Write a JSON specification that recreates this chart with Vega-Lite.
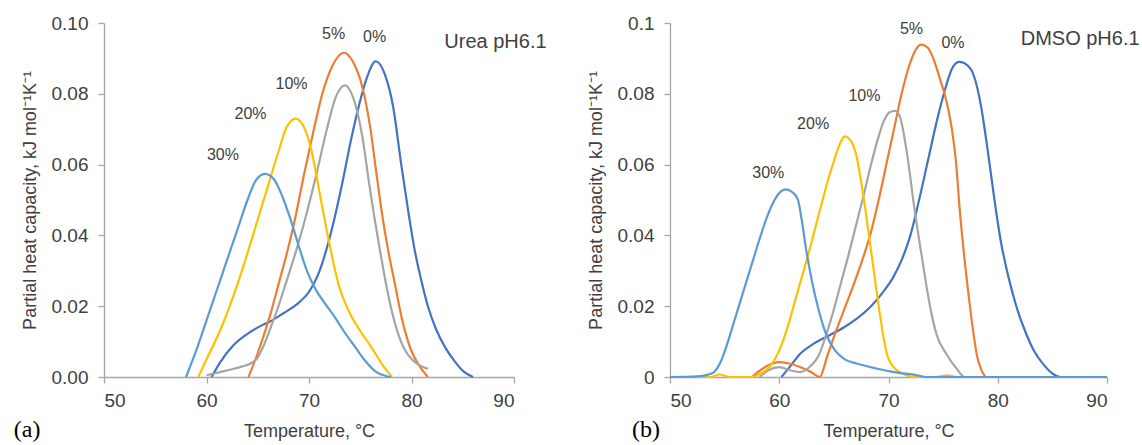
{
"$schema": "https://vega.github.io/schema/vega-lite/v6.json",
"background": "white",
"padding": {"left": 13, "top": 14, "right": 0, "bottom": 0},
"spacing": 40,
"config": {
  "view": {"stroke": null},
  "font": "Liberation Sans",
  "axis": {"domainColor": "#A6A6A6", "tickColor": "#A6A6A6", "labelColor": "#404040", "titleColor": "#404040", "labelFont": "Liberation Sans", "titleFont": "Liberation Sans", "labelFontSize": 19, "titleFontSize": 18, "titleFontWeight": "normal", "grid": false, "tickSize": 6, "domainWidth": 1.3, "tickWidth": 1.3},
  "axisX": {"labelPadding": 8, "titlePadding": 12},
  "axisY": {"labelPadding": 10, "titlePadding": 12}
},
"datasets": {
"curves": [
{"p":"a","c":"0%","t":60.5,"v":0},{"p":"a","c":"0%","t":61.3,"v":0.004},{"p":"a","c":"0%","t":62.6,"v":0.0089},{"p":"a","c":"0%","t":63.9,"v":0.012},{"p":"a","c":"0%","t":65.2,"v":0.0143},{"p":"a","c":"0%","t":66.4,"v":0.016},{"p":"a","c":"0%","t":67.5,"v":0.018},{"p":"a","c":"0%","t":68.8,"v":0.0205},{"p":"a","c":"0%","t":70.1,"v":0.0245},{"p":"a","c":"0%","t":70.9,"v":0.029},{"p":"a","c":"0%","t":71.7,"v":0.036},{"p":"a","c":"0%","t":72.5,"v":0.045},{"p":"a","c":"0%","t":73.3,"v":0.0555},{"p":"a","c":"0%","t":74.1,"v":0.067},{"p":"a","c":"0%","t":74.9,"v":0.077},{"p":"a","c":"0%","t":75.7,"v":0.085},{"p":"a","c":"0%","t":76.5,"v":0.0892},{"p":"a","c":"0%","t":77.4,"v":0.0855},{"p":"a","c":"0%","t":78.2,"v":0.0765},{"p":"a","c":"0%","t":79.0,"v":0.060},{"p":"a","c":"0%","t":79.7,"v":0.0465},{"p":"a","c":"0%","t":80.3,"v":0.036},{"p":"a","c":"0%","t":80.9,"v":0.028},{"p":"a","c":"0%","t":81.6,"v":0.020},{"p":"a","c":"0%","t":82.4,"v":0.0135},{"p":"a","c":"0%","t":83.3,"v":0.0083},{"p":"a","c":"0%","t":84.2,"v":0.0045},{"p":"a","c":"0%","t":85.1,"v":0.0015},{"p":"a","c":"0%","t":86.0,"v":0},
{"p":"a","c":"5%","t":64.1,"v":0},{"p":"a","c":"5%","t":64.9,"v":0.006},{"p":"a","c":"5%","t":65.5,"v":0.011},{"p":"a","c":"5%","t":66.2,"v":0.0174},{"p":"a","c":"5%","t":67.1,"v":0.027},{"p":"a","c":"5%","t":67.95,"v":0.0362},{"p":"a","c":"5%","t":68.7,"v":0.0455},{"p":"a","c":"5%","t":69.5,"v":0.057},{"p":"a","c":"5%","t":70.4,"v":0.069},{"p":"a","c":"5%","t":71.3,"v":0.080},{"p":"a","c":"5%","t":72.3,"v":0.088},{"p":"a","c":"5%","t":73.4,"v":0.0916},{"p":"a","c":"5%","t":74.3,"v":0.089},{"p":"a","c":"5%","t":75.2,"v":0.082},{"p":"a","c":"5%","t":76.0,"v":0.070},{"p":"a","c":"5%","t":76.6,"v":0.057},{"p":"a","c":"5%","t":77.2,"v":0.0447},{"p":"a","c":"5%","t":77.7,"v":0.0362},{"p":"a","c":"5%","t":78.4,"v":0.026},{"p":"a","c":"5%","t":79.1,"v":0.016},{"p":"a","c":"5%","t":79.9,"v":0.008},{"p":"a","c":"5%","t":80.8,"v":0.003},{"p":"a","c":"5%","t":81.6,"v":0},
{"p":"a","c":"10%","t":60.0,"v":0.0005},{"p":"a","c":"10%","t":61.5,"v":0.0015},{"p":"a","c":"10%","t":62.5,"v":0.0022},{"p":"a","c":"10%","t":63.5,"v":0.003},{"p":"a","c":"10%","t":64.3,"v":0.0038},{"p":"a","c":"10%","t":65.0,"v":0.0055},{"p":"a","c":"10%","t":65.6,"v":0.009},{"p":"a","c":"10%","t":66.2,"v":0.0135},{"p":"a","c":"10%","t":66.9,"v":0.019},{"p":"a","c":"10%","t":67.8,"v":0.027},{"p":"a","c":"10%","t":68.8,"v":0.0362},{"p":"a","c":"10%","t":69.7,"v":0.0455},{"p":"a","c":"10%","t":70.7,"v":0.057},{"p":"a","c":"10%","t":71.7,"v":0.0695},{"p":"a","c":"10%","t":72.6,"v":0.079},{"p":"a","c":"10%","t":73.5,"v":0.0824},{"p":"a","c":"10%","t":74.3,"v":0.079},{"p":"a","c":"10%","t":75.2,"v":0.068},{"p":"a","c":"10%","t":75.9,"v":0.054},{"p":"a","c":"10%","t":76.4,"v":0.0447},{"p":"a","c":"10%","t":76.9,"v":0.0362},{"p":"a","c":"10%","t":77.6,"v":0.025},{"p":"a","c":"10%","t":78.4,"v":0.015},{"p":"a","c":"10%","t":79.2,"v":0.0085},{"p":"a","c":"10%","t":80.2,"v":0.0045},{"p":"a","c":"10%","t":81.0,"v":0.003},{"p":"a","c":"10%","t":81.6,"v":0.0023},
{"p":"a","c":"20%","t":59.2,"v":0},{"p":"a","c":"20%","t":60.0,"v":0.005},{"p":"a","c":"20%","t":61.0,"v":0.011},{"p":"a","c":"20%","t":62.0,"v":0.018},{"p":"a","c":"20%","t":63.0,"v":0.026},{"p":"a","c":"20%","t":64.0,"v":0.035},{"p":"a","c":"20%","t":65.0,"v":0.0445},{"p":"a","c":"20%","t":66.0,"v":0.054},{"p":"a","c":"20%","t":67.0,"v":0.0635},{"p":"a","c":"20%","t":67.8,"v":0.0705},{"p":"a","c":"20%","t":68.7,"v":0.073},{"p":"a","c":"20%","t":69.4,"v":0.0712},{"p":"a","c":"20%","t":70.2,"v":0.0645},{"p":"a","c":"20%","t":71.1,"v":0.051},{"p":"a","c":"20%","t":72.0,"v":0.0375},{"p":"a","c":"20%","t":72.9,"v":0.026},{"p":"a","c":"20%","t":73.9,"v":0.0185},{"p":"a","c":"20%","t":75.0,"v":0.013},{"p":"a","c":"20%","t":76.0,"v":0.0088},{"p":"a","c":"20%","t":77.2,"v":0.0033},{"p":"a","c":"20%","t":78.1,"v":0},
{"p":"a","c":"30%","t":58.0,"v":0},{"p":"a","c":"30%","t":59.0,"v":0.0075},{"p":"a","c":"30%","t":60.0,"v":0.016},{"p":"a","c":"30%","t":61.0,"v":0.0245},{"p":"a","c":"30%","t":62.0,"v":0.033},{"p":"a","c":"30%","t":63.0,"v":0.0415},{"p":"a","c":"30%","t":64.0,"v":0.050},{"p":"a","c":"30%","t":64.8,"v":0.0555},{"p":"a","c":"30%","t":65.7,"v":0.0574},{"p":"a","c":"30%","t":66.6,"v":0.0558},{"p":"a","c":"30%","t":67.4,"v":0.051},{"p":"a","c":"30%","t":68.2,"v":0.0445},{"p":"a","c":"30%","t":69.0,"v":0.037},{"p":"a","c":"30%","t":69.8,"v":0.030},{"p":"a","c":"30%","t":70.6,"v":0.025},{"p":"a","c":"30%","t":71.5,"v":0.021},{"p":"a","c":"30%","t":72.5,"v":0.017},{"p":"a","c":"30%","t":73.5,"v":0.0125},{"p":"a","c":"30%","t":74.5,"v":0.0085},{"p":"a","c":"30%","t":75.5,"v":0.0045},{"p":"a","c":"30%","t":76.5,"v":0.0015},{"p":"a","c":"30%","t":77.5,"v":0.0003},{"p":"a","c":"30%","t":78.0,"v":0},
{"p":"b","c":"0%","t":60.2,"v":0},{"p":"b","c":"0%","t":61.0,"v":0.003},{"p":"b","c":"0%","t":61.9,"v":0.0065},{"p":"b","c":"0%","t":63.2,"v":0.0095},{"p":"b","c":"0%","t":64.6,"v":0.0118},{"p":"b","c":"0%","t":65.9,"v":0.014},{"p":"b","c":"0%","t":67.1,"v":0.0165},{"p":"b","c":"0%","t":68.4,"v":0.020},{"p":"b","c":"0%","t":69.5,"v":0.024},{"p":"b","c":"0%","t":70.4,"v":0.028},{"p":"b","c":"0%","t":71.2,"v":0.033},{"p":"b","c":"0%","t":72.0,"v":0.040},{"p":"b","c":"0%","t":72.8,"v":0.050},{"p":"b","c":"0%","t":73.6,"v":0.061},{"p":"b","c":"0%","t":74.4,"v":0.072},{"p":"b","c":"0%","t":75.2,"v":0.0815},{"p":"b","c":"0%","t":75.9,"v":0.0876},{"p":"b","c":"0%","t":76.5,"v":0.089},{"p":"b","c":"0%","t":77.5,"v":0.0871},{"p":"b","c":"0%","t":78.4,"v":0.0777},{"p":"b","c":"0%","t":79.1,"v":0.0636},{"p":"b","c":"0%","t":79.7,"v":0.050},{"p":"b","c":"0%","t":80.3,"v":0.038},{"p":"b","c":"0%","t":81.0,"v":0.028},{"p":"b","c":"0%","t":81.7,"v":0.020},{"p":"b","c":"0%","t":82.5,"v":0.013},{"p":"b","c":"0%","t":83.3,"v":0.0075},{"p":"b","c":"0%","t":84.2,"v":0.0035},{"p":"b","c":"0%","t":85.0,"v":0.001},{"p":"b","c":"0%","t":85.7,"v":0},{"p":"b","c":"0%","t":90,"v":0},
{"p":"b","c":"5%","t":57.5,"v":0},{"p":"b","c":"5%","t":58.5,"v":0.0024},{"p":"b","c":"5%","t":59.9,"v":0.0042},{"p":"b","c":"5%","t":60.9,"v":0.0038},{"p":"b","c":"5%","t":61.9,"v":0.0028},{"p":"b","c":"5%","t":62.9,"v":0.0014},{"p":"b","c":"5%","t":63.7,"v":0},{"p":"b","c":"5%","t":64.4,"v":0.006},{"p":"b","c":"5%","t":65.2,"v":0.013},{"p":"b","c":"5%","t":66.0,"v":0.0195},{"p":"b","c":"5%","t":66.8,"v":0.026},{"p":"b","c":"5%","t":67.6,"v":0.033},{"p":"b","c":"5%","t":68.4,"v":0.041},{"p":"b","c":"5%","t":69.1,"v":0.050},{"p":"b","c":"5%","t":69.8,"v":0.060},{"p":"b","c":"5%","t":70.5,"v":0.070},{"p":"b","c":"5%","t":71.2,"v":0.080},{"p":"b","c":"5%","t":71.9,"v":0.088},{"p":"b","c":"5%","t":72.5,"v":0.0925},{"p":"b","c":"5%","t":73.0,"v":0.0939},{"p":"b","c":"5%","t":73.6,"v":0.093},{"p":"b","c":"5%","t":74.1,"v":0.090},{"p":"b","c":"5%","t":74.7,"v":0.0843},{"p":"b","c":"5%","t":75.3,"v":0.078},{"p":"b","c":"5%","t":75.8,"v":0.070},{"p":"b","c":"5%","t":76.2,"v":0.060},{"p":"b","c":"5%","t":76.5,"v":0.048},{"p":"b","c":"5%","t":76.9,"v":0.035},{"p":"b","c":"5%","t":77.3,"v":0.024},{"p":"b","c":"5%","t":77.7,"v":0.014},{"p":"b","c":"5%","t":78.1,"v":0.006},{"p":"b","c":"5%","t":78.5,"v":0.002},{"p":"b","c":"5%","t":79.0,"v":0},{"p":"b","c":"5%","t":90,"v":0},
{"p":"b","c":"10%","t":58.2,"v":0},{"p":"b","c":"10%","t":59.0,"v":0.0019},{"p":"b","c":"10%","t":60.0,"v":0.0028},{"p":"b","c":"10%","t":61.0,"v":0.0019},{"p":"b","c":"10%","t":61.9,"v":0.0014},{"p":"b","c":"10%","t":63.0,"v":0.0035},{"p":"b","c":"10%","t":63.6,"v":0.006},{"p":"b","c":"10%","t":64.2,"v":0.011},{"p":"b","c":"10%","t":64.9,"v":0.018},{"p":"b","c":"10%","t":65.6,"v":0.026},{"p":"b","c":"10%","t":66.3,"v":0.034},{"p":"b","c":"10%","t":67.0,"v":0.0425},{"p":"b","c":"10%","t":67.7,"v":0.051},{"p":"b","c":"10%","t":68.4,"v":0.060},{"p":"b","c":"10%","t":69.0,"v":0.067},{"p":"b","c":"10%","t":69.6,"v":0.0725},{"p":"b","c":"10%","t":70.1,"v":0.0748},{"p":"b","c":"10%","t":70.6,"v":0.0752},{"p":"b","c":"10%","t":71.05,"v":0.0735},{"p":"b","c":"10%","t":71.7,"v":0.063},{"p":"b","c":"10%","t":72.4,"v":0.047},{"p":"b","c":"10%","t":73.1,"v":0.033},{"p":"b","c":"10%","t":73.8,"v":0.020},{"p":"b","c":"10%","t":74.4,"v":0.012},{"p":"b","c":"10%","t":75.3,"v":0.0065},{"p":"b","c":"10%","t":76.2,"v":0.0025},{"p":"b","c":"10%","t":77.0,"v":0},{"p":"b","c":"10%","t":90,"v":0},
{"p":"b","c":"20%","t":50,"v":0},{"p":"b","c":"20%","t":53.8,"v":0},{"p":"b","c":"20%","t":54.5,"v":0.0007},{"p":"b","c":"20%","t":55.5,"v":0},{"p":"b","c":"20%","t":57.5,"v":0},{"p":"b","c":"20%","t":58.3,"v":0.001},{"p":"b","c":"20%","t":59.0,"v":0.0025},{"p":"b","c":"20%","t":59.6,"v":0.005},{"p":"b","c":"20%","t":60.2,"v":0.009},{"p":"b","c":"20%","t":60.8,"v":0.0145},{"p":"b","c":"20%","t":61.4,"v":0.021},{"p":"b","c":"20%","t":62.0,"v":0.0275},{"p":"b","c":"20%","t":62.6,"v":0.034},{"p":"b","c":"20%","t":63.2,"v":0.041},{"p":"b","c":"20%","t":63.8,"v":0.048},{"p":"b","c":"20%","t":64.4,"v":0.055},{"p":"b","c":"20%","t":65.0,"v":0.061},{"p":"b","c":"20%","t":65.5,"v":0.0655},{"p":"b","c":"20%","t":66.0,"v":0.068},{"p":"b","c":"20%","t":66.6,"v":0.0665},{"p":"b","c":"20%","t":67.1,"v":0.062},{"p":"b","c":"20%","t":67.5,"v":0.055},{"p":"b","c":"20%","t":67.9,"v":0.047},{"p":"b","c":"20%","t":68.3,"v":0.038},{"p":"b","c":"20%","t":68.7,"v":0.029},{"p":"b","c":"20%","t":69.1,"v":0.020},{"p":"b","c":"20%","t":69.5,"v":0.012},{"p":"b","c":"20%","t":69.9,"v":0.006},{"p":"b","c":"20%","t":70.4,"v":0.003},{"p":"b","c":"20%","t":71.3,"v":0.001},{"p":"b","c":"20%","t":72.3,"v":0},{"p":"b","c":"20%","t":74.3,"v":0},{"p":"b","c":"20%","t":75.3,"v":0.0005},{"p":"b","c":"20%","t":76.3,"v":0},{"p":"b","c":"20%","t":90,"v":0},
{"p":"b","c":"30%","t":50,"v":0},{"p":"b","c":"30%","t":52.5,"v":0.0002},{"p":"b","c":"30%","t":53.4,"v":0.0006},{"p":"b","c":"30%","t":54.0,"v":0.0013},{"p":"b","c":"30%","t":54.6,"v":0.004},{"p":"b","c":"30%","t":55.2,"v":0.009},{"p":"b","c":"30%","t":55.8,"v":0.015},{"p":"b","c":"30%","t":56.4,"v":0.021},{"p":"b","c":"30%","t":57.0,"v":0.027},{"p":"b","c":"30%","t":57.6,"v":0.033},{"p":"b","c":"30%","t":58.2,"v":0.039},{"p":"b","c":"30%","t":58.8,"v":0.0445},{"p":"b","c":"30%","t":59.4,"v":0.049},{"p":"b","c":"30%","t":60.0,"v":0.052},{"p":"b","c":"30%","t":60.6,"v":0.053},{"p":"b","c":"30%","t":61.2,"v":0.0522},{"p":"b","c":"30%","t":61.7,"v":0.0502},{"p":"b","c":"30%","t":62.05,"v":0.0445},{"p":"b","c":"30%","t":62.45,"v":0.0362},{"p":"b","c":"30%","t":63.0,"v":0.027},{"p":"b","c":"30%","t":63.6,"v":0.019},{"p":"b","c":"30%","t":64.3,"v":0.012},{"p":"b","c":"30%","t":65.1,"v":0.0075},{"p":"b","c":"30%","t":66.0,"v":0.005},{"p":"b","c":"30%","t":67.1,"v":0.0038},{"p":"b","c":"30%","t":68.9,"v":0.0024},{"p":"b","c":"30%","t":70.5,"v":0.0014},{"p":"b","c":"30%","t":72.6,"v":0.0005},{"p":"b","c":"30%","t":73.5,"v":0},{"p":"b","c":"30%","t":90,"v":0}
],
"labels": [
{"p":"a","k":"pct","t":72.4,"v":0.097,"s":"5%"},{"p":"a","k":"pct","t":76.4,"v":0.096,"s":"0%"},{"p":"a","k":"pct","t":68.3,"v":0.0829,"s":"10%"},{"p":"a","k":"pct","t":64.3,"v":0.0744,"s":"20%"},{"p":"a","k":"pct","t":61.6,"v":0.0626,"s":"30%"},{"p":"a","k":"name","t":83.2,"v":0.0946,"s":"Urea pH6.1"},{"p":"a","k":"tag","t":42.5,"v":-0.0151,"s":"(a)"},
{"p":"b","k":"pct","t":72.1,"v":0.0984,"s":"5%"},{"p":"b","k":"pct","t":75.9,"v":0.0944,"s":"0%"},{"p":"b","k":"pct","t":67.8,"v":0.0794,"s":"10%"},{"p":"b","k":"pct","t":63.1,"v":0.0716,"s":"20%"},{"p":"b","k":"pct","t":59.0,"v":0.0577,"s":"30%"},{"p":"b","k":"name","t":82.1,"v":0.0954,"s":"DMSO pH6.1"},{"p":"b","k":"tag","t":47.8,"v":-0.0151,"s":"(b)"}
]
},
"hconcat": [
{
  "width": 410, "height": 354,
  "layer": [
    {"data": {"name": "curves"}, "transform": [{"filter": "datum.p === 'a'"}],
     "mark": {"type": "line", "interpolate": "monotone", "strokeWidth": 2.2},
     "encoding": {
       "x": {"field": "t", "type": "quantitative", "scale": {"domain": [50, 90], "nice": false, "zero": false}, "axis": {"values": [50, 60, 70, 80, 90], "title": "Temperature, °C"}},
       "y": {"field": "v", "type": "quantitative", "scale": {"domain": [0, 0.1], "nice": false}, "axis": {"values": [0, 0.02, 0.04, 0.06, 0.08, 0.1], "format": ".2f", "title": "Partial heat capacity, kJ mol⁻¹K⁻¹"}},
       "color": {"field": "c", "type": "nominal", "scale": {"domain": ["0%", "5%", "10%", "20%", "30%"], "range": ["#4472C4", "#ED7D31", "#A5A5A5", "#FFC000", "#5B9BD5"]}, "legend": null}
     }},
    {"data": {"name": "labels"}, "transform": [{"filter": "datum.p === 'a' && datum.k === 'pct'"}],
     "mark": {"type": "text", "fontSize": 16, "color": "#404040", "align": "center", "baseline": "middle"},
     "encoding": {"x": {"field": "t", "type": "quantitative"}, "y": {"field": "v", "type": "quantitative"}, "text": {"field": "s"}}},
    {"data": {"name": "labels"}, "transform": [{"filter": "datum.p === 'a' && datum.k === 'name'"}],
     "mark": {"type": "text", "fontSize": 20, "color": "#404040", "align": "left", "baseline": "middle"},
     "encoding": {"x": {"field": "t", "type": "quantitative"}, "y": {"field": "v", "type": "quantitative"}, "text": {"field": "s"}}},
    {"data": {"name": "labels"}, "transform": [{"filter": "datum.p === 'a' && datum.k === 'tag'"}],
     "mark": {"type": "text", "fontSize": 24, "font": "Liberation Serif", "color": "#000000", "align": "center", "baseline": "middle"},
     "encoding": {"x": {"field": "t", "type": "quantitative"}, "y": {"field": "v", "type": "quantitative"}, "text": {"field": "s"}}}
  ]
},
{
  "width": 437, "height": 354,
  "layer": [
    {"data": {"name": "curves"}, "transform": [{"filter": "datum.p === 'b'"}],
     "mark": {"type": "line", "interpolate": "monotone", "strokeWidth": 2.2},
     "encoding": {
       "x": {"field": "t", "type": "quantitative", "scale": {"domain": [50, 90], "nice": false, "zero": false}, "axis": {"values": [50, 60, 70, 80, 90], "title": "Temperature, °C"}},
       "y": {"field": "v", "type": "quantitative", "scale": {"domain": [0, 0.1], "nice": false}, "axis": {"values": [0, 0.02, 0.04, 0.06, 0.08, 0.1], "labelExpr": "format(datum.value, '~g')", "title": "Partial heat capacity, kJ mol⁻¹K⁻¹"}},
       "color": {"field": "c", "type": "nominal", "scale": {"domain": ["0%", "5%", "10%", "20%", "30%"], "range": ["#4472C4", "#ED7D31", "#A5A5A5", "#FFC000", "#5B9BD5"]}, "legend": null}
     }},
    {"data": {"name": "labels"}, "transform": [{"filter": "datum.p === 'b' && datum.k === 'pct'"}],
     "mark": {"type": "text", "fontSize": 16, "color": "#404040", "align": "center", "baseline": "middle"},
     "encoding": {"x": {"field": "t", "type": "quantitative"}, "y": {"field": "v", "type": "quantitative"}, "text": {"field": "s"}}},
    {"data": {"name": "labels"}, "transform": [{"filter": "datum.p === 'b' && datum.k === 'name'"}],
     "mark": {"type": "text", "fontSize": 20, "color": "#404040", "align": "left", "baseline": "middle"},
     "encoding": {"x": {"field": "t", "type": "quantitative"}, "y": {"field": "v", "type": "quantitative"}, "text": {"field": "s"}}},
    {"data": {"name": "labels"}, "transform": [{"filter": "datum.p === 'b' && datum.k === 'tag'"}],
     "mark": {"type": "text", "fontSize": 24, "font": "Liberation Serif", "color": "#000000", "align": "center", "baseline": "middle"},
     "encoding": {"x": {"field": "t", "type": "quantitative"}, "y": {"field": "v", "type": "quantitative"}, "text": {"field": "s"}}}
  ]
}
]
}
